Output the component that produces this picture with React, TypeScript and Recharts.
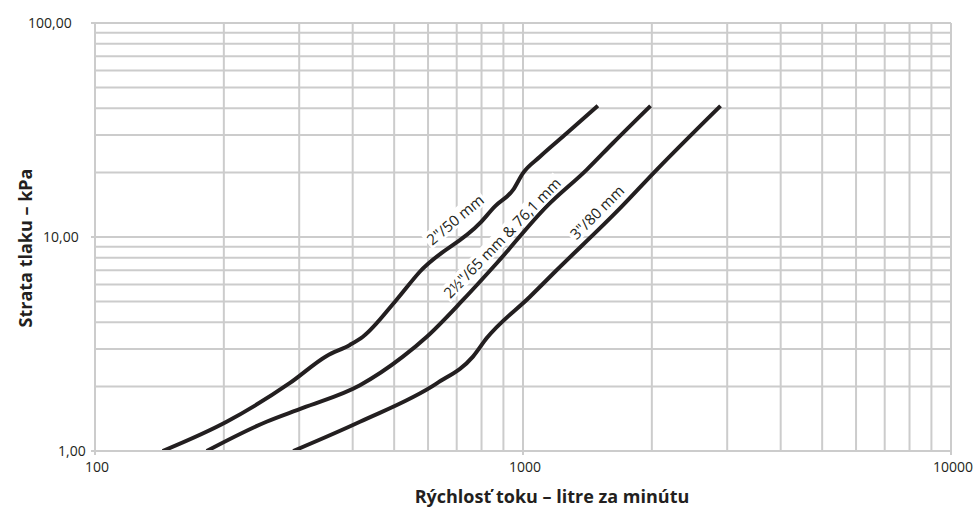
import React, { useLayoutEffect, useRef, useState } from 'react';
import { LineChart, Line, XAxis, YAxis, CartesianGrid, ReferenceDot, Label } from 'recharts';

// ---- axis ticks ----
const xGridTicks = [100, 200, 300, 400, 500, 600, 700, 800, 900, 1000, 2000, 3000, 4000, 5000, 6000, 7000, 8000, 9000, 10000];
const yGridTicks = [1, 2, 3, 4, 5, 6, 7, 8, 9, 10, 20, 30, 40, 50, 60, 70, 80, 90, 100];
const xLabeled = [100, 1000, 10000];
const yLabeled = [1, 10, 100];

// ---- series: flow (l/min) vs pressure loss (kPa) ----
const flow50 = [143.9, 203, 285.5, 347.8, 394, 422.6, 506, 574, 793, 860, 948, 1000, 1095, 1265, 1496];
const loss50 = [1.0, 1.37, 2.08, 2.78, 3.13, 3.42, 5.08, 6.88, 11.6, 13.9, 16.6, 19.9, 23.7, 30.5, 41];

const flow65 = [182.4, 251.6, 306, 416, 524, 596, 724, 868, 1136, 1408, 1623, 1986];
const loss65 = [1.0, 1.37, 1.59, 2.03, 2.76, 3.42, 5.08, 7.54, 13.9, 20.6, 27.5, 41];

const flow80 = [290.5, 416, 629, 764, 822, 1038, 1188, 1684, 2052, 2894];
const loss80 = [1.0, 1.37, 2.07, 2.76, 3.36, 5.26, 6.88, 13.6, 20.6, 41];

// ---- curve labels ----
const curveLabels = ['2"/50 mm', '2½"/65 mm & 76,1 mm', '3"/80 mm'];
const labelFlow = [693, 892, 1486];
const labelLoss = [12.1, 9.95, 13.1];
const labelAngle = [-40, -46, -45];

const xTitle = 'Rýchlosť toku – litre za minútu';
const yTitle = 'Strata tlaku – kPa';

const toRows = (xs: number[], ys: number[]) => xs.map((f, i) => ({ flow: f, loss: ys[i] }));
const series = [toRows(flow50, loss50), toRows(flow65, loss65), toRows(flow80, loss80)];

const FONT = '"Open Sans", "Noto Sans", sans-serif';
const GRID = '#cccccc';
const INK = '#231f20';

const fmtY = (v: number) => v.toFixed(2).replace('.', ',');

const XTick = (props: any) => {
  const { x, y, payload } = props;
  const v = payload.value;
  if (!xLabeled.includes(v)) return <g />;
  return (
    <g>
      <line x1={x} x2={x} y1={y} y2={y + 4} stroke={GRID} strokeWidth={2} />
      <text x={x + 2} y={y + 21} textAnchor="middle" fontFamily={FONT} fontSize={14} fill={INK}>
        {v}
      </text>
    </g>
  );
};

const YTick = (props: any) => {
  const { x, y, payload } = props;
  const v = payload.value;
  if (!yLabeled.includes(v)) return <g />;
  const startX = 58 - 15 * Math.log10(v);
  return (
    <g>
      <line x1={x - 4} x2={x} y1={y} y2={y} stroke={GRID} strokeWidth={2} />
      <text x={startX} y={y + 5} textAnchor="start" fontFamily={FONT} fontSize={14} fill={INK}>
        {fmtY(v)}
      </text>
    </g>
  );
};

const CurveLabel = ({ cx, cy, text, angle }: { cx: number; cy: number; text: string; angle: number }) => {
  const ref = useRef<SVGTextElement>(null);
  const [w, setW] = useState(text.length * 8);
  useLayoutEffect(() => {
    if (ref.current) setW(ref.current.getComputedTextLength());
  }, [text]);
  const h = 17;
  return (
    <g transform={`translate(${cx},${cy}) rotate(${angle})`}>
      <rect x={-w / 2 - 2} y={-h / 2} width={w + 4} height={h} fill="#ffffff" />
      <text
        ref={ref}
        x={0}
        y={0}
        textAnchor="middle"
        dominantBaseline="central"
        fontFamily={FONT}
        fontSize={15}
        fill={INK}
      >
        {text}
      </text>
    </g>
  );
};

const YTitle = (props: any) => {
  const vb = props.viewBox || { x: 0, y: 23, width: 95, height: 428 };
  const cx = vb.x + 32;
  const cy = vb.y + vb.height / 2 + 11;
  return (
    <text
      x={cx}
      y={cy}
      transform={`rotate(-90, ${cx}, ${cy})`}
      textAnchor="middle"
      fontFamily={FONT}
      fontSize={18}
      fontWeight="bold"
      fill={INK}
    >
      {yTitle}
    </text>
  );
};

const XTitle = (props: any) => {
  const vb = props.viewBox || { x: 95, y: 451, width: 856, height: 59 };
  return (
    <text
      x={vb.x + vb.width / 2 + 29}
      y={vb.y + 52}
      textAnchor="middle"
      fontFamily={FONT}
      fontSize={18}
      fontWeight="bold"
      fill={INK}
    >
      {xTitle}
    </text>
  );
};

export default function App() {
  return (
    <div style={{ width: 977, height: 510, background: '#ffffff' }}>
      <style>{'body{margin:0;background:#fff;}'}</style>
      <LineChart width={977} height={510} margin={{ top: 23, right: 26, bottom: 0, left: 0 }}>
        <CartesianGrid stroke={GRID} strokeWidth={2} horizontal vertical />
        <XAxis
          dataKey="flow"
          type="number"
          scale="log"
          domain={[100, 10000]}
          allowDataOverflow
          ticks={xGridTicks}
          interval={0}
          height={59}
          tickSize={0}
          tickMargin={0}
          tickLine={false}
          axisLine={{ stroke: GRID, strokeWidth: 2 }}
          tick={<XTick />}
        >
          <Label content={<XTitle />} />
        </XAxis>
        <YAxis
          type="number"
          scale="log"
          domain={[1, 100]}
          allowDataOverflow
          ticks={yGridTicks}
          interval={0}
          width={95}
          tickSize={0}
          tickMargin={0}
          tickLine={false}
          axisLine={{ stroke: GRID, strokeWidth: 2 }}
          tick={<YTick />}
        >
          <Label content={<YTitle />} />
        </YAxis>
        {series.map((rows, i) => (
          <Line
            key={i}
            data={rows}
            dataKey="loss"
            type="monotone"
            stroke={INK}
            strokeWidth={4}
            dot={false}
            activeDot={false}
            isAnimationActive={false}
          />
        ))}
        {curveLabels.map((t, i) => (
          <ReferenceDot
            key={t}
            x={labelFlow[i]}
            y={labelLoss[i]}
            r={0}
            ifOverflow="visible"
            shape={(p: any) => <CurveLabel cx={p.cx} cy={p.cy} text={t} angle={labelAngle[i]} />}
          />
        ))}
      </LineChart>
    </div>
  );
}
